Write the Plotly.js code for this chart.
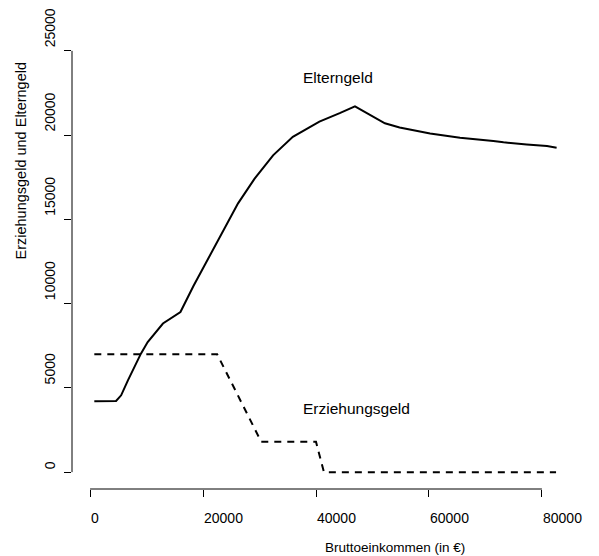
<!DOCTYPE html>
<html>
<head>
<meta charset="utf-8">
<script src="https://cdn.plot.ly/plotly-3.0.1.min.js"></script>
<style>html,body{margin:0;padding:0;background:#fff;}#chart{width:599px;height:556px;}</style>
</head>
<body>
<div id="chart"></div>
<script>
// Elterngeld (solid line)
const elternX = [750, 4300, 4600, 5500, 6700, 9000, 10200, 12900, 16000, 18300, 22900, 26200, 29100, 32400, 35900, 40600, 44200, 46900, 52200, 54800, 60200, 65500, 71400, 73200, 77300, 80900, 82600];
const elternY = [4200, 4200, 4220, 4560, 5450, 7030, 7720, 8820, 9500, 11050, 13850, 15950, 17400, 18800, 19900, 20800, 21300, 21700, 20700, 20450, 20100, 19850, 19650, 19570, 19450, 19350, 19250];
// Erziehungsgeld (dashed line)
const erzX = [750, 22500, 30300, 40000, 41400, 82500];
const erzY = [7000, 7000, 1800, 1800, 0, 0];
// Axis ticks
const xTicks = [0, 20000, 40000, 60000, 80000];
const xTickLabels = ["0", "20000", "40000", "60000", "80000"];
const yTicks = [0, 5000, 10000, 15000, 20000, 25000];
const yTickLabels = ["0", "5000", "10000", "15000", "20000", "25000"];

const FONT = "Liberation Sans, Arial, Helvetica, sans-serif";

const traces = [
  {x: elternX, y: elternY, type: "scatter", mode: "lines", name: "Elterngeld",
   line: {color: "#000", width: 2}},
  {x: erzX, y: erzY, type: "scatter", mode: "lines", name: "Erziehungsgeld",
   line: {color: "#000", width: 2, dash: "7px,6px"}}
];

const annotations = [];
xTicks.forEach((v, i) => annotations.push({
  xref: "x", x: v, yref: "paper", y: 0, yshift: -29, xshift: -1,
  xanchor: "left", yanchor: "middle", showarrow: false,
  text: xTickLabels[i], font: {family: FONT, size: 14, color: "#000"}
}));
yTicks.forEach((v, i) => annotations.push({
  xref: "paper", x: 0, xshift: -22, yref: "y", y: v, yshift: 1,
  xanchor: "center", yanchor: "bottom", textangle: -90, showarrow: false,
  text: yTickLabels[i], font: {family: FONT, size: 14, color: "#000"}
}));
annotations.push({
  xref: "paper", x: 0.5, xshift: 7, yref: "paper", y: 0, yshift: -58,
  xanchor: "left", yanchor: "middle", showarrow: false,
  text: "Bruttoeinkommen (in €)", font: {family: FONT, size: 13.5, color: "#000"}
});
annotations.push({
  xref: "paper", x: 0, xshift: -52, yref: "paper", y: 0.5,
  xanchor: "center", yanchor: "bottom", textangle: -90, showarrow: false,
  text: "Erziehungsgeld und Elterngeld", font: {family: FONT, size: 14.5, color: "#000"}
});
annotations.push({
  xref: "x", x: 37300, yref: "y", y: 23400, xanchor: "left", yanchor: "middle",
  showarrow: false, text: "Elterngeld", font: {family: FONT, size: 15.5, color: "#000"}
});
annotations.push({
  xref: "x", x: 37300, yref: "y", y: 3770, xanchor: "left", yanchor: "middle",
  showarrow: false, text: "Erziehungsgeld", font: {family: FONT, size: 15.5, color: "#000"}
});

const layout = {
  width: 599, height: 556,
  margin: {l: 72, r: 39, t: 34, b: 67, pad: 0},
  paper_bgcolor: "#fff", plot_bgcolor: "#fff",
  showlegend: false,
  xaxis: {range: [-3200, 83200], autorange: false, showgrid: false, zeroline: false,
          showline: false, tickmode: "array", tickvals: xTicks, ticks: "outside",
          ticklen: 7, tickwidth: 1, tickcolor: "#000", showticklabels: false},
  yaxis: {range: [-1000, 26000], autorange: false, showgrid: false, zeroline: false,
          showline: false, tickmode: "array", tickvals: yTicks, ticks: "outside",
          ticklen: 7, tickwidth: 1, tickcolor: "#000", showticklabels: false},
  shapes: [
    {type: "line", xref: "x", x0: xTicks[0], x1: xTicks[xTicks.length - 1], yref: "paper", y0: 0, y1: 0,
     line: {color: "#000", width: 1}},
    {type: "line", xref: "paper", x0: 0, x1: 0, yref: "y", y0: yTicks[0], y1: yTicks[yTicks.length - 1],
     line: {color: "#000", width: 1}}
  ],
  annotations: annotations
};

Plotly.newPlot("chart", traces, layout, {staticPlot: true, displayModeBar: false});
</script>
</body>
</html>
